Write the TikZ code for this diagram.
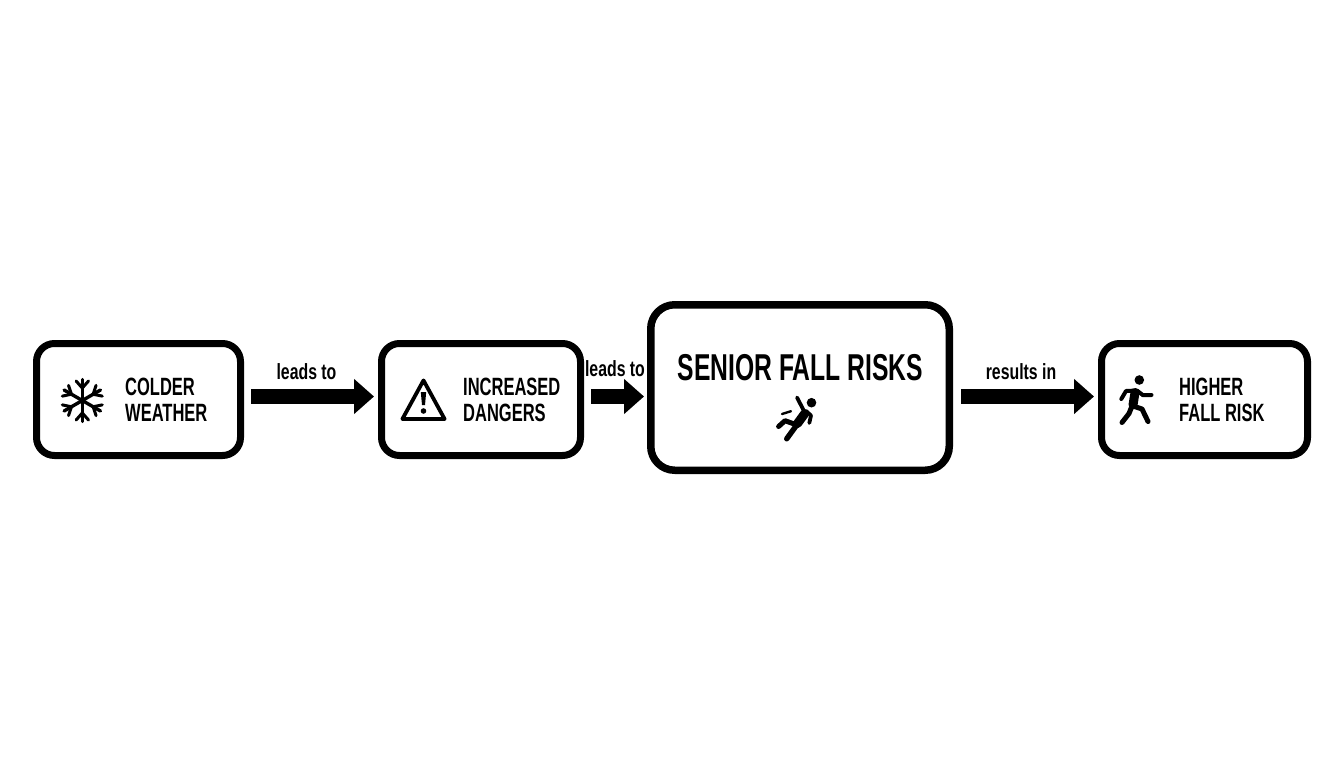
\documentclass[tikz,border=0pt]{standalone}
\usepackage{fontspec}
\setmainfont{Liberation Sans}
\newfontfamily\capsfam[FakeStretch=0.66]{Liberation Sans}
\newfontfamily\labelfam[FakeStretch=0.72]{Liberation Sans}
\usetikzlibrary{arrows.meta}
\tikzset{
  x=1pt,y=-1pt,
  smallbox/.style={draw=black,line width=7pt,rounded corners=18pt,minimum width=204pt,minimum height=112pt,inner sep=0pt,fill=white},
  bigbox/.style={draw=black,line width=7.5pt,rounded corners=24pt,minimum width=298.5pt,minimum height=165.5pt,inner sep=0pt,fill=white},
  boxtext/.style={font=\capsfam\bfseries\fontsize{25}{26}\selectfont,align=left,anchor=west,inner sep=0pt,text=black},
  bigtext/.style={font=\capsfam\bfseries\fontsize{37.4}{40}\selectfont,anchor=base,inner sep=0pt,text=black},
  linktext/.style={font=\labelfam\bfseries\fontsize{22}{24}\selectfont,anchor=base,inner sep=0pt,text=black},
  flow/.style={draw=black,line width=15pt,-{Triangle[length=20pt,width=34pt]}},
  iconline/.style={draw=black,line cap=round,line join=round,line width=#1},
  iconline/.default=4pt
}
\begin{document}
\begin{tikzpicture}
\useasboundingbox (0,0) rectangle (1344,768);
\fill[white] (0,0) rectangle (1344,768);

% boxes
\node[smallbox,minimum width=204pt] (cold) at (138.5,399.5) {};
\node[smallbox,minimum width=199pt] (danger) at (481,399.5) {};
\node[bigbox] (senior) at (800,387.5) {};
\node[smallbox,minimum width=206pt] (higher) at (1204.5,399.5) {};

% box texts
\node[boxtext] (coldtext) at (125,400) {COLDER\\WEATHER};
\node[boxtext] (dangertext) at (463,400) {INCREASED\\DANGERS};
\node[bigtext] (seniortext) at (800.5,380) {SENIOR FALL RISKS};
\node[boxtext] (highertext) at (1179,400) {HIGHER\\FALL RISK};

% connectors
\coordinate (c1) at ([yshift=3pt]cold.east);
\coordinate (c2) at ([yshift=3pt]danger.east);
\coordinate (c3) at (c2 -| senior.east);
\draw[flow,shorten <=7pt,shorten >=4pt] (c1) -- (c1 -| danger.west);
\draw[flow,shorten <=7pt,shorten >=3pt] (c2) -- (c2 -| senior.west);
\draw[flow,shorten <=8pt,shorten >=4pt] (c3) -- (c3 -| higher.west);

% connector labels
\node[linktext] (l1) at (306.5,379) {leads to};
\node[linktext] (l2) at (615,376) {leads to};
\node[linktext] (l3) at (1021,379) {results in};

% snowflake
\foreach \a in {0,60,...,300}{
  \draw[iconline=3.4pt,shift={(82.3,400.5)},rotate=\a] (0,0) -- (0,-21);
  \draw[iconline=3pt,shift={(82.3,400.5)},rotate=\a] (-6.2,-19.5) -- (0,-12.5) -- (6.2,-19.5);
}

% warning triangle
\draw[iconline=3.8pt] (402.4,419) -- (444.6,419) -- (423.5,380.4) -- cycle;
\fill[black] (420.8,392) -- (426.2,392) -- (425,405) -- (422,405) -- cycle;
\fill[black] (423.5,411) circle (2.8);

% falling person
\fill[black] (811.5,402.7) circle (4.8);
\draw[iconline=3.8pt] (797,397.5) -- (804,411);
\draw[iconline=3.8pt] (806,411) -- (811,415.5) -- (809.3,423);
\draw[iconline=9pt] (804.8,413.5) -- (797.5,423.5);
\draw[iconline=5pt] (797,425) -- (785,420.7) -- (778.6,426.5);
\draw[iconline=5.4pt] (796,426) -- (786.7,438.8);
\draw[iconline=2.4pt] (782,414) -- (791,411.2);

% walking person
\fill[black] (1139.3,380) circle (4.8);
\draw[iconline=9pt] (1135,392.5) -- (1133,405);
\draw[iconline=4pt] (1135,390.6) -- (1126,391) -- (1121.3,399);
\draw[iconline=4pt] (1137,390.6) -- (1143,395.2) -- (1151.5,395);
\draw[iconline=5pt] (1133,406) -- (1142,409) -- (1148,421.5);
\draw[iconline=5pt] (1132,406) -- (1129,413.5) -- (1122,422.5);
\end{tikzpicture}
\end{document}
